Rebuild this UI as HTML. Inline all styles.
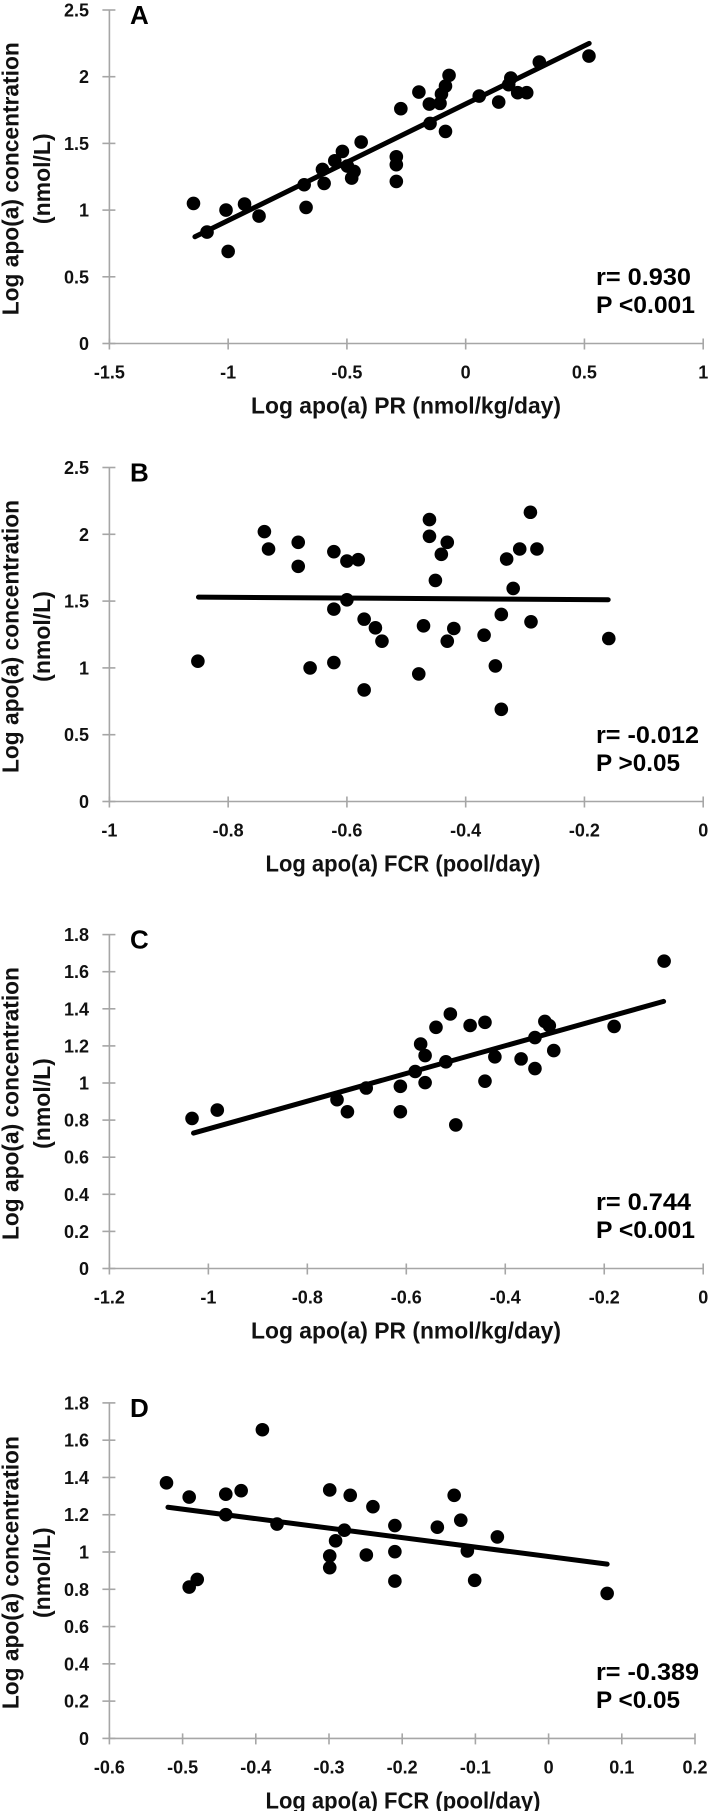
<!DOCTYPE html>
<html><head><meta charset="utf-8"><style>
html,body{margin:0;padding:0;background:#fff;}
svg{display:block;font-family:"Liberation Sans",Arial,sans-serif;font-weight:bold;}
</style></head><body>
<svg id="fig" width="709" height="1811" viewBox="0 0 709 1811"></svg>
<script>
// Panel A: Log apo(a) PR vs Log apo(a) concentration
const aX = [-1.146,-1.089,-1.009,-1.0,-0.931,-0.87,-0.68,-0.672,-0.596,-0.603,-0.551,-0.519,-0.498,-0.47,-0.48,-0.44,-0.292,-0.292,-0.292,-0.273,-0.197,-0.15,-0.153,-0.108,-0.102,-0.085,-0.07,-0.085,0.057,0.139,0.181,0.19,0.219,0.257,0.31,0.519];
const aY = [1.05,0.835,1.0,0.69,1.045,0.955,1.19,1.02,1.2,1.305,1.37,1.44,1.33,1.29,1.24,1.51,1.40,1.34,1.215,1.76,1.885,1.65,1.795,1.80,1.87,1.93,2.01,1.59,1.855,1.81,1.94,1.99,1.88,1.88,2.11,2.155];
const aFit = [[-1.14,0.80],[0.52,2.25]];
const aXTicks = [-1.5,-1,-0.5,0,0.5,1];
const aYTicks = [0,0.5,1,1.5,2,2.5];
// Panel B: Log apo(a) FCR vs concentration
const bX = [-0.851,-0.739,-0.732,-0.682,-0.682,-0.662,-0.622,-0.622,-0.622,-0.6,-0.581,-0.6,-0.571,-0.571,-0.552,-0.541,-0.479,-0.471,-0.461,-0.461,-0.451,-0.441,-0.431,-0.431,-0.42,-0.369,-0.35,-0.34,-0.34,-0.331,-0.32,-0.309,-0.291,-0.29,-0.28,-0.159];
const bY = [1.05,2.02,1.89,1.94,1.76,1.0,1.87,1.44,1.04,1.80,1.81,1.51,1.365,0.835,1.30,1.20,0.955,1.315,2.11,1.985,1.655,1.85,1.94,1.20,1.295,1.245,1.015,1.40,0.69,1.815,1.595,1.89,2.165,1.345,1.89,1.22];
const bFit = [[-0.85,1.53],[-0.16,1.51]];
const bXTicks = [-1,-0.8,-0.6,-0.4,-0.2,0];
const bYTicks = [0,0.5,1,1.5,2,2.5];
// Panel C
const cX = [-1.033,-0.982,-0.74,-0.719,-0.681,-0.612,-0.612,-0.582,-0.571,-0.562,-0.562,-0.54,-0.52,-0.511,-0.5,-0.471,-0.441,-0.441,-0.421,-0.368,-0.34,-0.34,-0.32,-0.311,-0.302,-0.18,-0.079];
const cY = [0.809,0.854,0.91,0.845,0.973,0.982,0.845,1.062,1.21,1.148,1.002,1.30,1.114,1.372,0.774,1.31,1.327,1.01,1.141,1.13,1.245,1.078,1.332,1.309,1.175,1.305,1.657];
const cFit = [[-1.03,0.73],[-0.08,1.44]];
const cXTicks = [-1.2,-1,-0.8,-0.6,-0.4,-0.2,0];
const cYTicks = [0,0.2,0.4,0.6,0.8,1,1.2,1.4,1.6,1.8];
// Panel D
const dX = [-0.522,-0.491,-0.491,-0.48,-0.441,-0.441,-0.42,-0.391,-0.371,-0.299,-0.299,-0.299,-0.291,-0.279,-0.271,-0.249,-0.24,-0.21,-0.21,-0.21,-0.152,-0.129,-0.12,-0.111,-0.101,-0.07,0.08];
const dY = [1.371,1.295,0.812,0.853,1.31,1.20,1.329,1.656,1.15,1.333,0.979,0.916,1.06,1.117,1.304,0.984,1.243,1.142,1.002,0.844,1.133,1.304,1.171,1.006,0.848,1.081,0.778];
const dFit = [[-0.52,1.24],[0.08,0.935]];
const dXTicks = [-0.6,-0.5,-0.4,-0.3,-0.2,-0.1,0,0.1,0.2];
const dYTicks = [0,0.2,0.4,0.6,0.8,1,1.2,1.4,1.6,1.8];

const NS='http://www.w3.org/2000/svg';
const svg=document.getElementById('fig');
function mk(tag,attrs,parent){const e=document.createElementNS(NS,tag);for(const k in attrs)e.setAttribute(k,attrs[k]);(parent||svg).appendChild(e);return e;}

const panels=[
 {id:'a',letter:'A',xs:aX,ys:aY,fit:aFit,xt:aXTicks,yt:aYTicks,px0:109.4,px1:703.2,py0:343.5,py1:10,xtitle:'Log apo(a) PR (nmol/kg/day)',xtw:310,r:'r= 0.930',p:'P <0.001'},
 {id:'b',letter:'B',xs:bX,ys:bY,fit:bFit,xt:bXTicks,yt:bYTicks,px0:109.4,px1:703.2,py0:801.5,py1:467.5,xtitle:'Log apo(a) FCR (pool/day)',xtw:275,r:'r= -0.012',p:'P >0.05'},
 {id:'c',letter:'C',xs:cX,ys:cY,fit:cFit,xt:cXTicks,yt:cYTicks,px0:109.4,px1:703.2,py0:1268.5,py1:934.6,xtitle:'Log apo(a) PR (nmol/kg/day)',xtw:310,r:'r= 0.744',p:'P <0.001'},
 {id:'d',letter:'D',xs:dX,ys:dY,fit:dFit,xt:dXTicks,yt:dYTicks,px0:109.4,px1:695,py0:1738.4,py1:1402.9,xtitle:'Log apo(a) FCR (pool/day)',xtw:275,r:'r= -0.389',p:'P <0.05'}
];

panels.forEach(P=>{
  const g=mk('g',{});
  
  
  const xmin=P.xt[0], xmax=P.xt[P.xt.length-1], ymin=P.yt[0], ymax=P.yt[P.yt.length-1];
  const sx=v=>P.px0+(v-xmin)/(xmax-xmin)*(P.px1-P.px0);
  const sy=v=>P.py0-(v-ymin)/(ymax-ymin)*(P.py0-P.py1);
  // axes
  const xa=mk('line',{x1:P.px0,y1:P.py0,x2:P.px1,y2:P.py0,stroke:'#a6a6a6','stroke-width':1.6},g);
  
  
  const ya=mk('line',{x1:P.px0,y1:P.py0,x2:P.px0,y2:P.py1,stroke:'#a6a6a6','stroke-width':1.6},g);
  
  
  P.xt.forEach(t=>{
    const x=sx(t);
    const tk=mk('line',{x1:x,y1:P.py0-5,x2:x,y2:P.py0+6,stroke:'#a6a6a6','stroke-width':1.6},g);
    
    
    const tl=mk('text',{x:x,y:P.py0+35,'text-anchor':'middle','font-size':18,fill:'#111'},g);
    
    
    tl.textContent=String(t);
  });
  P.yt.forEach(t=>{
    const y=sy(t);
    const tk=mk('line',{x1:P.px0-7,y1:y,x2:P.px0+6,y2:y,stroke:'#a6a6a6','stroke-width':1.6},g);
    
    
    const tl=mk('text',{x:89,y:y+6.5,'text-anchor':'end','font-size':18,fill:'#111'},g);
    
    
    tl.textContent=String(t);
  });
  // points
  P.xs.forEach((v,i)=>{
    const c=mk('circle',{cx:sx(v),cy:sy(P.ys[i]),r:6.8,fill:'#000'},g);
    
    
  });
  // regression line
  const fl=mk('line',{x1:sx(P.fit[0][0]),y1:sy(P.fit[0][1]),x2:sx(P.fit[1][0]),y2:sy(P.fit[1][1]),stroke:'#000','stroke-width':5,'stroke-linecap':'round'},g);
  
  
  // letter
  const lt=mk('text',{x:130,y:P.py1+14,'font-size':26,fill:'#000'},g);
  
  
  lt.textContent=P.letter;
  // stats
  const st=P.py0-342;
  const r=mk('text',{x:596,y:st+275+8.5,'font-size':24,fill:'#000',textLength:P.r.length>8?103:95,lengthAdjust:'spacingAndGlyphs'},g);
  
  
  r.textContent=P.r;
  const p=mk('text',{x:596,y:st+303+8.5,'font-size':24,fill:'#000',textLength:P.p.length>7?99:84,lengthAdjust:'spacingAndGlyphs'},g);
  
  
  p.textContent=P.p;
  // x title
  const xt=mk('text',{x:(P.id==='d'||P.id==='b')?403:406,y:P.py0+70,'text-anchor':'middle','font-size':23,fill:'#111',textLength:P.xtw,lengthAdjust:'spacingAndGlyphs'},g);
  
  
  xt.textContent=P.xtitle;
  // y title
  const cy=(P.py0+P.py1)/2+2;
  const y1=mk('text',{x:0,y:0,'text-anchor':'middle','font-size':23,fill:'#111',textLength:273,lengthAdjust:'spacingAndGlyphs',transform:'translate(18.5,'+cy+') rotate(-90)'},g);
  
  
  y1.textContent='Log  apo(a) concentration';
  const y2=mk('text',{x:0,y:0,'text-anchor':'middle','font-size':23,fill:'#111',transform:'translate(50,'+cy+') rotate(-90)'},g);
  
  
  y2.textContent='(nmol/L)';
});
</script>
</body></html>
